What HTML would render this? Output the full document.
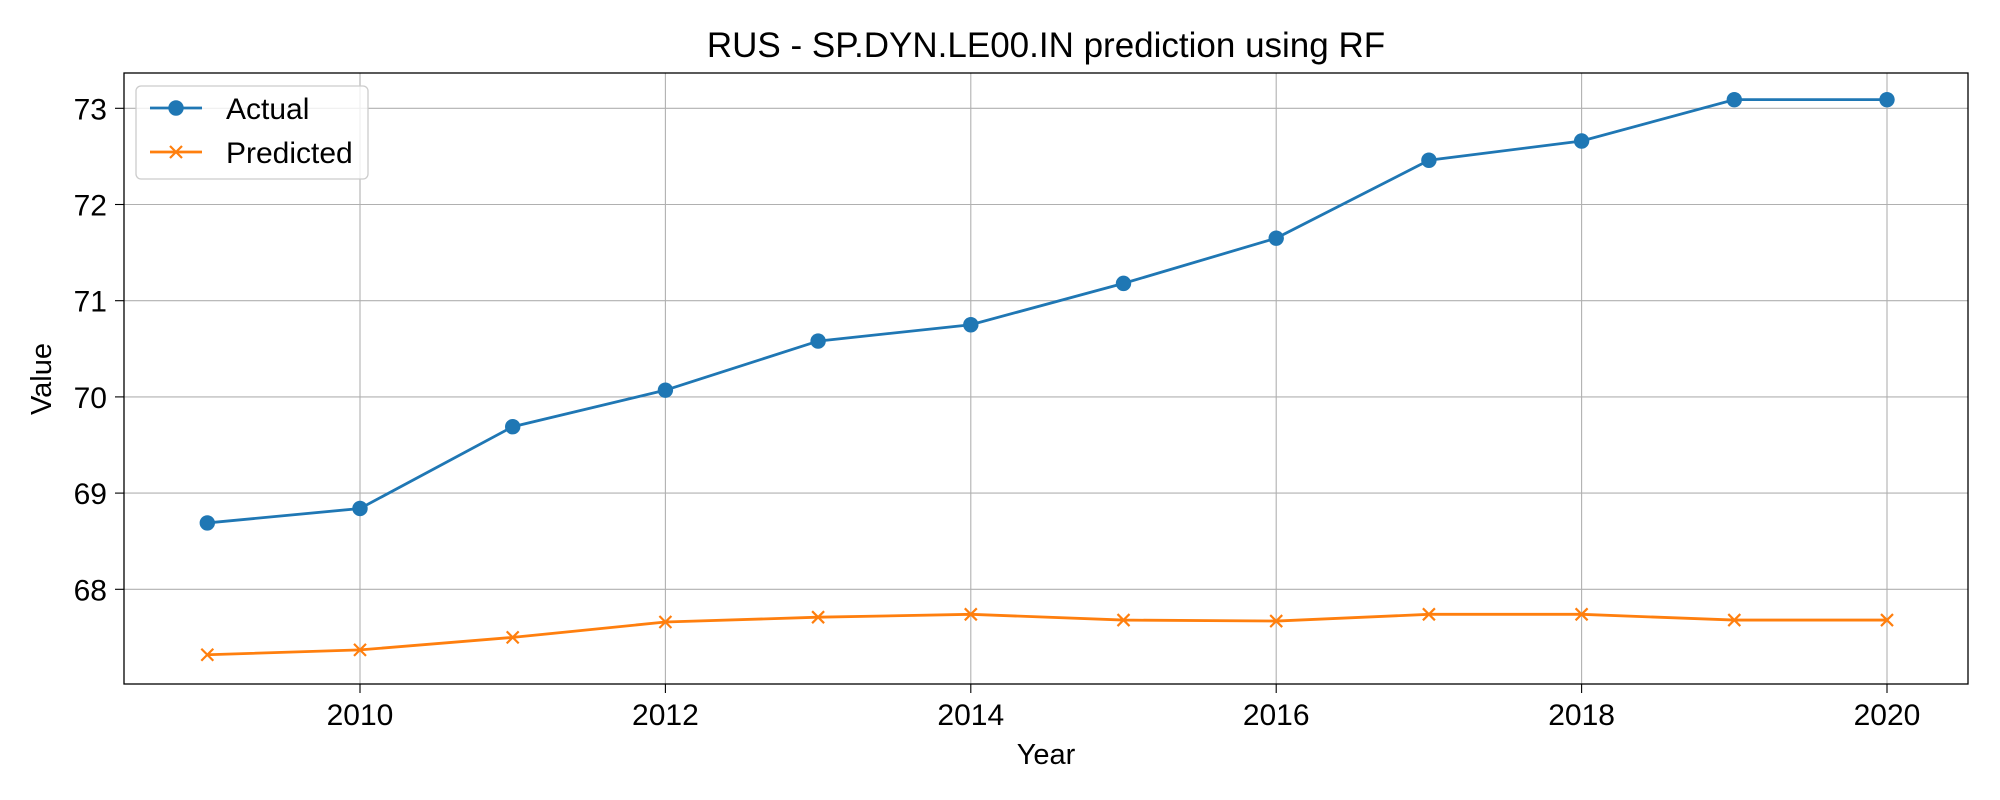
<!DOCTYPE html>
<html><head><meta charset="utf-8"><style>
html,body{margin:0;padding:0;background:#fff;}
svg{display:block;font-family:"Liberation Sans","DejaVu Sans",sans-serif;}
</style></head><body>
<svg id="chart" width="2000" height="800" xmlns="http://www.w3.org/2000/svg">
<rect width="2000" height="800" fill="#fff"/>
<text x="1046" y="57" font-size="35" text-anchor="middle" fill="#000">RUS - SP.DYN.LE00.IN prediction using RF</text>
<g id="grid"></g>
<g id="xticks"></g>
<g id="yticks"></g>
<g id="series"></g>
<rect x="124" y="73" width="1844" height="611" fill="none" stroke="#000" stroke-width="1.3"/>
<text x="1046" y="764" font-size="29" text-anchor="middle">Year</text>
<text x="0" y="0" font-size="29" text-anchor="middle" transform="translate(51,379) rotate(-90)">Value</text>
<g>
<rect x="136" y="86" width="232" height="93" rx="5" fill="#fff" fill-opacity="0.8" stroke="#ccc" stroke-width="1.3"/>
<g>
<line x1="150" y1="108" x2="202" y2="108" stroke="#1f77b4" stroke-width="2.8"/>
<circle cx="176" cy="108" r="7.7" fill="#1f77b4"/>
<text x="226" y="119" font-size="30">Actual</text></g>
<g>
<line x1="150" y1="152" x2="202" y2="152" stroke="#ff7f0e" stroke-width="2.8"/>
<path d="M170 146 L182 158 M182 146 L170 158" stroke="#ff7f0e" stroke-width="2.2"/>
<text x="226" y="163" font-size="30">Predicted</text></g>
</g>
</svg>
<script>
const years=[2009,2010,2011,2012,2013,2014,2015,2016,2017,2018,2019,2020];
const actual=[68.69,68.84,69.69,70.07,70.58,70.75,71.18,71.65,72.46,72.66,73.09,73.09];
const predicted=[67.32,67.37,67.50,67.66,67.71,67.74,67.68,67.67,67.74,67.74,67.68,67.68];
const xTicks=[2010,2012,2014,2016,2018,2020];
const yTicks=[68,69,70,71,72,73];
const NS="http://www.w3.org/2000/svg";
function xs(v){return 360+(v-2010)*152.7;}
function ys(v){return 589.3-(v-68)*96.2;}
function mk(t,a,p){const e=document.createElementNS(NS,t);for(const k in a)e.setAttribute(k,a[k]);p.appendChild(e);return e;}
const grid=document.getElementById('grid'),xt=document.getElementById('xticks'),yt=document.getElementById('yticks'),se=document.getElementById('series');
xTicks.forEach(v=>{const x=xs(v);
 const g=mk('line',{x1:x,x2:x,y1:73,y2:684,stroke:'#b0b0b0','stroke-width':1.1},grid);
 
 
 mk('line',{x1:x,x2:x,y1:684,y2:693,stroke:'#000','stroke-width':1.1},xt);
 const t=mk('text',{x:x,y:725,'font-size':30,'text-anchor':'middle'},xt);t.textContent=v;
 
 });
yTicks.forEach(v=>{const y=ys(v);
 const g=mk('line',{x1:124,x2:1968,y1:y,y2:y,stroke:'#b0b0b0','stroke-width':1.1},grid);
 
 
 mk('line',{x1:115,x2:124,y1:y,y2:y,stroke:'#000','stroke-width':1.1},yt);
 const t=mk('text',{x:107,y:y+11,'font-size':30,'text-anchor':'end'},yt);t.textContent=v;
 
 });
const pa=mk('polyline',{points:years.map((y,i)=>xs(y)+','+ys(actual[i])).join(' '),fill:'none',stroke:'#1f77b4','stroke-width':2.8},se);


const pp=mk('polyline',{points:years.map((y,i)=>xs(y)+','+ys(predicted[i])).join(' '),fill:'none',stroke:'#ff7f0e','stroke-width':2.8},se);


years.forEach((yr,i)=>{const x=xs(yr);
 const c=mk('circle',{cx:x,cy:ys(actual[i]),r:7.7,fill:'#1f77b4'},se);
 
 
 const y=ys(predicted[i]);
 const m=mk('path',{d:`M${x-6} ${y-6} L${x+6} ${y+6} M${x+6} ${y-6} L${x-6} ${y+6}`,stroke:'#ff7f0e','stroke-width':2.2},se);
 
 });
</script>
</body></html>
